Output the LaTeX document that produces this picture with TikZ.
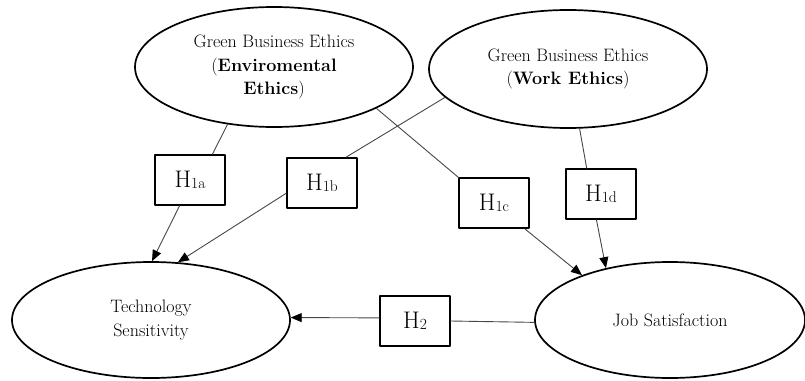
\documentclass[tikz,border=0pt]{standalone}
\usepackage{fontspec}
\usetikzlibrary{shapes.geometric,arrows.meta}
\newcommand{\hlab}[1]{H\raisebox{-1.5pt}{\fontsize{15.5}{15.5}\selectfont #1}}
\begin{document}
\begin{tikzpicture}[x=1pt,y=-1pt,line cap=round,line join=round,
  latent/.style={ellipse,draw,line width=1.7pt,inner sep=0pt,align=center,font=\fontsize{18}{23.5}\selectfont},
  hbox/.style={rectangle,draw,line width=1.6pt,minimum width=70pt,minimum height=50pt,inner sep=0pt,font=\fontsize{24}{24}\selectfont},
  link/.style={line width=0.9pt,draw=black!72},
  arr/.style={link,-{Triangle[length=11pt,width=9pt,color=black]}}]
  \useasboundingbox (0,0) rectangle (805,380);
  \node[latent,minimum width=278pt,minimum height=120pt] (env) at (274,67) {Green Business Ethics\\(\textbf{Enviromental}\\\textbf{Ethics})};
  \node[latent,minimum width=278pt,minimum height=118pt] (work) at (568,69) {Green Business Ethics\\(\textbf{Work Ethics})};
  \node[latent,minimum width=278pt,minimum height=116pt] (tech) at (151,320) {Technology\\Sensitivity};
  \node[latent,minimum width=270pt,minimum height=116pt] (job) at (670,320) {Job Satisfaction};
  \node[hbox] (h1a) at (190,180) {\hlab{1a}};
  \node[hbox] (h1b) at (322,183) {\hlab{1b}};
  \node[hbox] (h1c) at (494,203) {\hlab{1c}};
  \node[hbox] (h1d) at (601,194) {\hlab{1d}};
  \node[hbox] (h2) at (415,321) {\hlab{2}};
  \draw[link] (env.231) -- (h1a.49);
  \draw[arr] (h1a.248) -- (tech.89);
  \draw[link] (work.193) -- (h1b.47);
  \draw[arr] (h1b.196) -- (tech.65);
  \draw[link] (env.338) -- (h1c.north west);
  \draw[arr] (h1c.320) -- (job.153);
  \draw[link] (work.281) -- (h1d.119);
  \draw[arr] (h1d.260) -- (job.141);
  \draw[link] (job.181) -- (h2.east);
  \draw[arr] (h2.175) -- (tech.1);
\end{tikzpicture}
\end{document}
